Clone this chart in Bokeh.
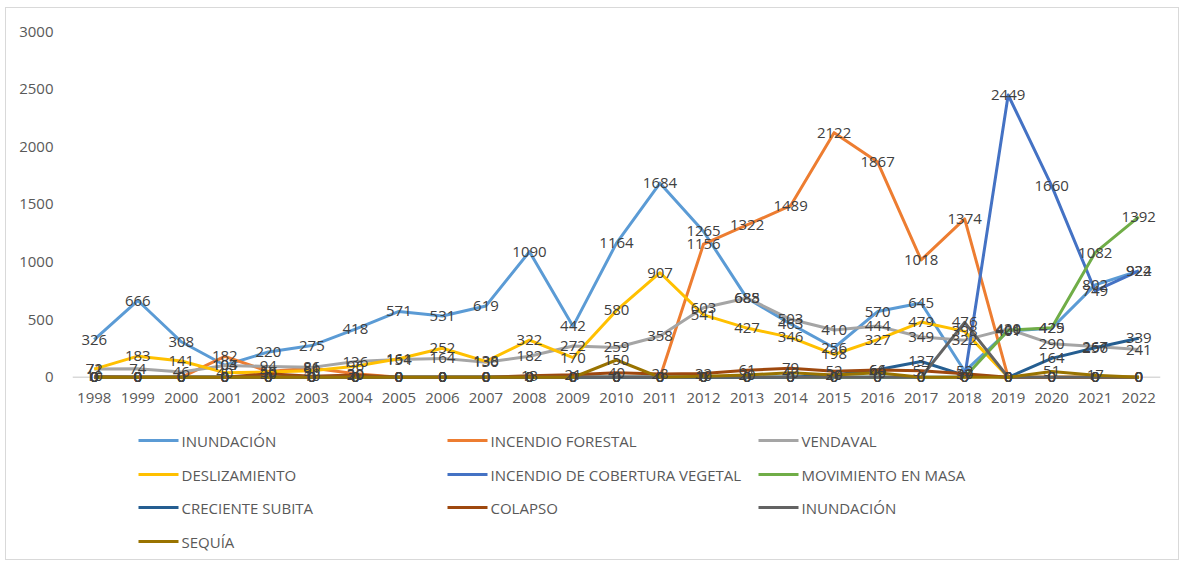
from bokeh.plotting import figure
from bokeh.layouts import column
from bokeh.models import Range1d, Span, ColumnDataSource, FixedTicker
from bokeh.core.properties import value
from bokeh.embed import file_html
from bokeh.resources import INLINE

years = list(range(1998, 2023))

inundacion = [326, 666, 308, 104, 220, 275, 418, 571, 531, 619, 1090, 442, 1164, 1684, 1265, 685, 463, 256, 570, 645, 52, 401, 425, 802, 922]
incendio_forestal = [10, 0, 0, 182, 50, 81, 30, 0, 0, 0, 0, 0, 0, 0, 1156, 1322, 1489, 2122, 1867, 1018, 1374, 0, 0, 0, 0]
vendaval = [72, 74, 46, 103, 94, 86, 136, 154, 164, 130, 182, 272, 259, 358, 603, 688, 503, 410, 444, 349, 322, 420, 290, 267, 241]
deslizamiento = [71, 183, 141, 40, 45, 56, 96, 161, 252, 138, 322, 170, 580, 907, 541, 427, 346, 198, 327, 479, 398, 0, 0, 0, 0]
incendio_cobertura = [0, 0, 0, 0, 0, 0, 0, 0, 0, 0, 0, 0, 0, 0, 0, 0, 0, 0, 0, 0, 0, 2449, 1660, 749, 924]
movimiento_masa = [0, 0, 0, 0, 0, 0, 0, 0, 0, 0, 0, 0, 0, 0, 0, 0, 0, 0, 0, 0, 0, 409, 429, 1082, 1392]
creciente_subita = [0, 0, 0, 0, 0, 0, 0, 0, 0, 0, 0, 0, 0, 0, 0, 0, 0, 20, 66, 137, 17, 0, 164, 256, 339]
colapso = [0, 0, 0, 0, 30, 10, 20, 0, 0, 0, 13, 21, 40, 28, 32, 61, 79, 52, 64, 57, 30, 0, 0, 0, 0]
inundacion_2 = [0, 0, 0, 0, 0, 0, 0, 0, 0, 0, 0, 0, 0, 0, 0, 0, 0, 0, 0, 0, 476, 0, 0, 0, 0]
sequia = [0, 0, 0, 0, 0, 0, 0, 0, 0, 0, 0, 0, 150, 0, 10, 20, 40, 20, 40, 0, 0, 0, 51, 17, 0]

series_names = ["INUNDACIÓN", "INCENDIO FORESTAL", "VENDAVAL", "DESLIZAMIENTO",
                "INCENDIO DE COBERTURA VEGETAL", "MOVIMIENTO EN MASA",
                "CRECIENTE SUBITA", "COLAPSO", "INUNDACIÓN", "SEQUÍA"]
series_values = [inundacion, incendio_forestal, vendaval, deslizamiento, incendio_cobertura,
                 movimiento_masa, creciente_subita, colapso, inundacion_2, sequia]
colors = ["#5B9BD5", "#ED7D31", "#A5A5A5", "#FFC000", "#4472C4", "#70AD47",
          "#255E91", "#9E480E", "#636363", "#997300"]
y_ticks = [0, 500, 1000, 1500, 2000, 2500, 3000]

FONT = "Open Sans"
W = 1172
BL, BR = 66, 18

p = figure(width=W, height=412, output_backend="svg", toolbar_location=None,
           x_range=Range1d(1997.5, 2022.5), y_range=Range1d(-80, 3000),
           min_border_left=BL, min_border_right=BR, min_border_top=23, min_border_bottom=34)
p.outline_line_color = None
p.grid.visible = False
p.background_fill_color = "white"

for ax in (p.xaxis[0], p.yaxis[0]):
    ax.axis_line_color = None
    ax.major_tick_line_color = None
    ax.minor_tick_line_color = None
    ax.major_tick_out = 0
    ax.major_tick_in = 0
    ax.minor_tick_out = 0
    ax.minor_tick_in = 0
    ax.major_label_text_font = FONT
    ax.major_label_text_font_size = "15px"
    ax.major_label_text_color = "#595959"
p.xaxis.ticker = FixedTicker(ticks=years)
p.xaxis.major_label_standoff = 6
p.yaxis.ticker = FixedTicker(ticks=y_ticks)
p.yaxis.major_label_standoff = 19

p.add_layout(Span(location=0, dimension="width", line_color="#D9D9D9", line_width=1.5, level="underlay"))

for name, vals, col in zip(series_names, series_values, colors):
    p.line(years, vals, line_color=col, line_width=3, line_join="round")

for vals in series_values:
    src = ColumnDataSource(dict(x=years, y=vals, t=[str(v) for v in vals]))
    p.text(x="x", y="y", text="t", source=src, text_align="center", text_baseline="middle",
           text_font=value(FONT), text_font_size="15px", text_color="#404040")

# legend panel: frame aligned with the chart's frame, coordinates = pixels from the figure's left, y downward
LH = 139
lg = figure(width=W, height=LH, output_backend="svg", toolbar_location=None,
            x_range=Range1d(BL, W - BR), y_range=Range1d(LH, 0),
            x_axis_location=None, y_axis_location=None,
            min_border_left=BL, min_border_right=BR, min_border_top=0, min_border_bottom=0)
lg.outline_line_color = None
lg.grid.visible = False

col_x = [132, 441, 752]
row_y = [20, 54, 87, 121]
gx0, gx1, lx, ly = [], [], [], []
for i, name in enumerate(series_names):
    cx = col_x[i % 3]
    ry = row_y[i // 3]
    gx0.append(cx)
    gx1.append(cx + 40)
    lx.append(cx + 43)
    ly.append(ry)
lsrc = ColumnDataSource(dict(x0=gx0, x1=gx1, y=ly, lx=lx, t=series_names, c=colors))
lg.segment(x0="x0", y0="y", x1="x1", y1="y", line_color="c", line_width=3, source=lsrc)
lg.text(x="lx", y="y", text="t", source=lsrc, text_align="left", text_baseline="middle",
        text_font=value(FONT), text_font_size="15px", text_color="#595959")

layout = column(p, lg, spacing=0,
                styles={"border": "1px solid #D9D9D9", "margin-left": "5px", "margin-top": "7px"})

open("out.html", "w").write(file_html(layout, INLINE))
